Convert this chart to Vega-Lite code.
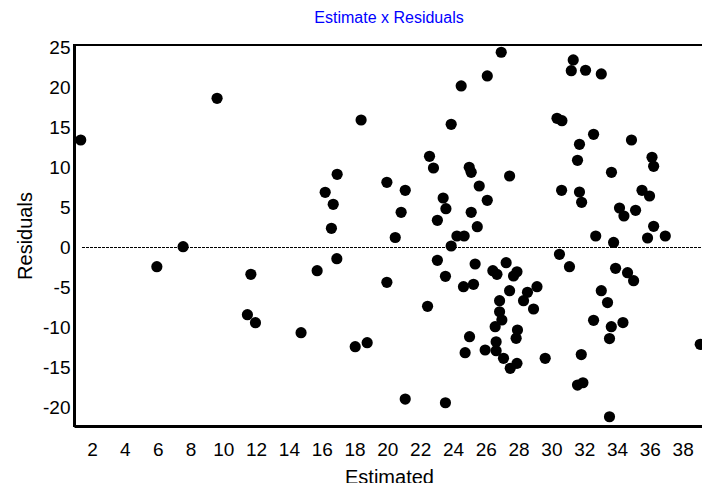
{
  "$schema": "https://vega.github.io/schema/vega-lite/v6.json",
  "autosize": {"type": "none"},
  "padding": {"left": 74, "top": 45, "right": 0, "bottom": 57},
  "width": 630,
  "height": 381,
  "background": "white",
  "config": {
    "view": {"stroke": "black", "strokeWidth": 2},
    "font": "Liberation Sans",
    "axis": {"grid": false, "ticks": false, "domainColor": "black", "domainWidth": 3, "labelColor": "black", "titleColor": "black", "labelFont": "Liberation Sans", "titleFont": "Liberation Sans", "labelFontSize": 19, "titleFontSize": 20, "titleFontWeight": "normal", "labelOverlap": false, "labelSeparation": -15}
  },
  "title": {"text": "Estimate x Residuals", "color": "#0000FF", "fontSize": 16, "fontWeight": "normal", "font": "Liberation Sans", "offset": 12},
  "data": {"values": [
    {"est": 1.31, "res": 13.44}, {"est": 9.62, "res": 18.65}, {"est": 7.55, "res": 0.10}, {"est": 5.95, "res": -2.40},
    {"est": 11.68, "res": -3.35}, {"est": 11.47, "res": -8.40}, {"est": 11.96, "res": -9.40}, {"est": 14.74, "res": -10.65},
    {"est": 15.72, "res": -2.90}, {"est": 16.21, "res": 6.90}, {"est": 16.70, "res": 5.40}, {"est": 16.94, "res": 9.15},
    {"est": 16.59, "res": 2.40}, {"est": 16.92, "res": -1.40}, {"est": 18.40, "res": 15.94}, {"est": 18.04, "res": -12.40},
    {"est": 18.77, "res": -11.90}, {"est": 19.97, "res": -4.35}, {"est": 19.97, "res": 8.15}, {"est": 20.48, "res": 1.25},
    {"est": 20.84, "res": 4.40}, {"est": 21.09, "res": 7.15}, {"est": 21.09, "res": -18.94}, {"est": 22.57, "res": 11.40},
    {"est": 22.81, "res": 9.94}, {"est": 22.45, "res": -7.35}, {"est": 23.05, "res": -1.60}, {"est": 23.05, "res": 3.40},
    {"est": 23.40, "res": 6.19}, {"est": 23.57, "res": 4.85}, {"est": 23.54, "res": -3.60}, {"est": 23.89, "res": 15.40},
    {"est": 23.54, "res": -19.40}, {"est": 24.50, "res": 20.19}, {"est": 23.89, "res": 0.19}, {"est": 24.24, "res": 1.44},
    {"est": 24.68, "res": 1.44}, {"est": 24.64, "res": -4.90}, {"est": 24.74, "res": -13.15}, {"est": 25.01, "res": -11.15},
    {"est": 24.99, "res": 10.03}, {"est": 25.11, "res": 9.40}, {"est": 25.11, "res": 4.40}, {"est": 25.48, "res": 2.60},
    {"est": 25.25, "res": -4.60}, {"est": 25.60, "res": 7.69}, {"est": 26.09, "res": 5.90}, {"est": 26.09, "res": 21.44},
    {"est": 25.96, "res": -12.81}, {"est": 26.43, "res": -2.90}, {"est": 26.63, "res": -12.90}, {"est": 26.57, "res": -9.90},
    {"est": 26.68, "res": -3.35}, {"est": 26.84, "res": -6.65}, {"est": 26.84, "res": -8.03}, {"est": 26.94, "res": 24.40},
    {"est": 26.63, "res": -11.78}, {"est": 26.98, "res": -9.06}, {"est": 27.08, "res": -13.85}, {"est": 27.24, "res": -1.90},
    {"est": 27.45, "res": 8.94}, {"est": 27.45, "res": -5.40}, {"est": 27.49, "res": -15.10}, {"est": 27.90, "res": -14.48},
    {"est": 27.69, "res": -3.56}, {"est": 27.90, "res": -3.03}, {"est": 27.93, "res": -10.31}, {"est": 27.85, "res": -11.35},
    {"est": 28.30, "res": -6.65}, {"est": 28.54, "res": -5.60}, {"est": 28.91, "res": -7.69}, {"est": 29.12, "res": -4.90},
    {"est": 29.62, "res": -13.85}, {"est": 30.34, "res": 16.15}, {"est": 30.64, "res": 15.85}, {"est": 30.49, "res": -0.85},
    {"est": 30.62, "res": 7.15}, {"est": 31.10, "res": -2.40}, {"est": 31.33, "res": 23.44}, {"est": 31.21, "res": 22.10},
    {"est": 31.59, "res": 10.90}, {"est": 31.71, "res": 12.90}, {"est": 31.71, "res": 6.94}, {"est": 31.84, "res": 5.65},
    {"est": 31.82, "res": -13.38}, {"est": 31.92, "res": -16.90}, {"est": 31.59, "res": -17.19}, {"est": 32.08, "res": 22.15},
    {"est": 32.57, "res": 14.15}, {"est": 32.57, "res": -9.10}, {"est": 32.70, "res": 1.44}, {"est": 33.04, "res": 21.69},
    {"est": 33.04, "res": -5.40}, {"est": 33.42, "res": -6.88}, {"est": 33.54, "res": -21.15}, {"est": 33.54, "res": -11.38},
    {"est": 33.66, "res": 9.40}, {"est": 33.65, "res": -9.90}, {"est": 33.79, "res": 0.63}, {"est": 33.91, "res": -2.60},
    {"est": 34.15, "res": 4.94}, {"est": 34.36, "res": -9.38}, {"est": 34.42, "res": 3.94}, {"est": 34.64, "res": -3.15},
    {"est": 34.88, "res": 13.44}, {"est": 35.01, "res": -4.15}, {"est": 35.13, "res": 4.65}, {"est": 35.52, "res": 7.15},
    {"est": 35.86, "res": 1.19}, {"est": 35.98, "res": 6.44}, {"est": 36.13, "res": 11.28}, {"est": 36.23, "res": 10.15},
    {"est": 36.23, "res": 2.65}, {"est": 36.94, "res": 1.44}, {"est": 39.07, "res": -12.10}, {"est": 25.35, "res": -2.06}
  ]},
  "layer": [
    {
      "mark": {"type": "circle", "color": "black", "opacity": 1, "size": 125},
      "encoding": {
        "x": {"field": "est", "type": "quantitative", "title": "Estimated",
              "scale": {"domain": [0.9, 39.3], "nice": false, "zero": false},
              "axis": {"values": [2,4,6,8,10,12,14,16,18,20,22,24,26,28,30,32,34,36,38], "tickCount": 19, "labelOverlap": false, "labelSeparation": -15, "labelPadding": 14, "titlePadding": 8, "labelFlush": false}},
        "y": {"field": "res", "type": "quantitative", "title": "Residuals",
              "scale": {"domain": [-22.31, 25.31], "nice": false, "zero": false},
              "axis": {"values": [-20,-15,-10,-5,0,5,10,15,20,25], "labelOverlap": false, "labelExpr": "datum.value < 0 ? '-' + abs(datum.value) : '' + datum.value", "labelPadding": 4, "titlePadding": 7, "labelFlush": false}}
      }
    },
    {
      "mark": {"type": "rule", "color": "black", "strokeWidth": 1.2, "strokeDash": [2, 2]},
      "encoding": {
        "y": {"datum": 0, "type": "quantitative"},
        "x": {"datum": 1.4, "type": "quantitative"},
        "x2": {"datum": 39.3}
      }
    }
  ]
}
